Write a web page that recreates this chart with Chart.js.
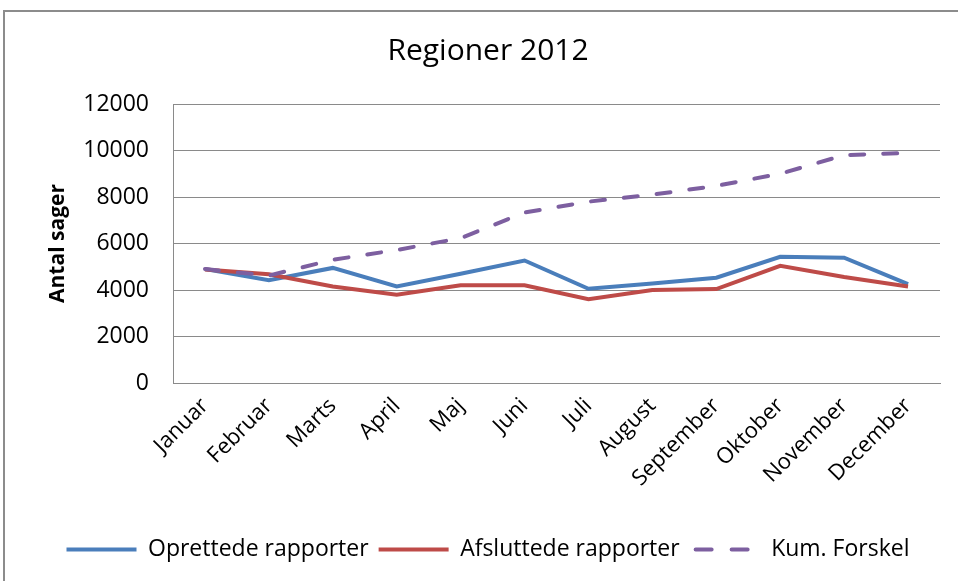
<!DOCTYPE html>
<html>
<head>
<meta charset="utf-8">
<title>Regioner 2012</title>
<script src="https://cdn.jsdelivr.net/npm/chart.js@4/dist/chart.umd.min.js"></script>
<style>
    html, body { margin: 0; padding: 0; background: #fff; overflow: hidden; }
    #wrap { position: relative; width: 958px; height: 581px; }
    #frame {
        position: absolute; left: 3px; top: 10px;
        width: 1000px; height: 1000px;
        border: 2px solid #8c8c8c;
        box-sizing: border-box;
    }
    #chart { position: absolute; left: 0; top: 0; }
</style>
</head>
<body>
<div id="wrap">
    <div id="frame"></div>
    <canvas id="chart" width="958" height="581"></canvas>
</div>
<script>
const months = ['Januar', 'Februar', 'Marts', 'April', 'Maj', 'Juni',
    'Juli', 'August', 'September', 'Oktober', 'November', 'December'];

const oprettede = [4900, 4420, 4950, 4150, 4700, 5270, 4050, 4280, 4530, 5430, 5390, 4250];
const afsluttede = [4880, 4680, 4150, 3800, 4200, 4200, 3600, 4000, 4040, 5040, 4560, 4150];
const kumForskel = [4900, 4620, 5300, 5720, 6230, 7330, 7800, 8100, 8480, 9000, 9800, 9900];

const yTicks = [0, 2000, 4000, 6000, 8000, 10000, 12000];

document.addEventListener('DOMContentLoaded', () => {
    const ctx = document.getElementById('chart').getContext('2d');
    const gridGray = '#8a8a8a';

    new Chart(ctx, {
        type: 'line',
        data: {
            labels: months,
            datasets: [{
                label: 'Oprettede rapporter',
                data: oprettede,
                borderColor: '#4a7ebb',
                backgroundColor: '#4a7ebb',
                borderWidth: 4,
                order: 2
            }, {
                label: 'Afsluttede rapporter',
                data: afsluttede,
                borderColor: '#be4b48',
                backgroundColor: '#be4b48',
                borderWidth: 4,
                order: 1
            }, {
                label: 'Kum. Forskel',
                data: kumForskel,
                borderColor: '#7d5fa0',
                backgroundColor: '#7d5fa0',
                borderWidth: 4,
                borderDash: [14, 19],
                borderCapStyle: 'round',
                order: 0
            }]
        },
        options: {
            responsive: false,
            animation: false,
            layout: {
                padding: { left: 36, right: 18, top: 0, bottom: 10 }
            },
            elements: {
                line: { tension: 0, fill: false },
                point: { radius: 0, hoverRadius: 0 }
            },
            scales: {
                x: {
                    offset: true,
                    grid: { display: false, drawTicks: false },
                    border: { display: true, color: gridGray, width: 1 },
                    ticks: {
                        color: '#000',
                        font: { family: 'Open Sans', size: 22 },
                        minRotation: 45,
                        maxRotation: 45,
                        padding: 10,
                        autoSkip: false
                    },
                    afterFit: scale => { scale.height = 145; }
                },
                y: {
                    min: 0,
                    max: 12000,
                    afterBuildTicks: scale => {
                        scale.ticks = yTicks.map(v => ({ value: v }));
                    },
                    grid: { color: gridGray, lineWidth: 1, drawTicks: false },
                    border: { display: true, color: gridGray, width: 1 },
                    ticks: {
                        color: '#000',
                        font: { family: 'Open Sans', size: 23 },
                        padding: 24,
                        callback: value => String(value)
                    },
                    title: {
                        display: true,
                        text: 'Antal sager',
                        color: '#000',
                        font: { family: 'Open Sans', size: 21, weight: 'bold' },
                        padding: { top: 9, bottom: 0 }
                    },
                    afterFit: scale => { scale.width = 137; }
                }
            },
            plugins: {
                title: {
                    display: true,
                    text: 'Regioner 2012',
                    color: '#000',
                    font: { family: 'Open Sans', size: 30, weight: 'normal' },
                    padding: { top: 33, bottom: 35 }
                },
                legend: {
                    position: 'bottom',
                    labels: {
                        color: '#000',
                        font: { family: 'Open Sans', size: 23 },
                        usePointStyle: true,
                        pointStyle: 'line',
                        pointStyleWidth: 70,
                        padding: 10,
                        sort: (a, b) => a.datasetIndex - b.datasetIndex,
                        // point-style items lose the dataset dash, so copy it back
                        generateLabels: chart => {
                            const items = Chart.defaults.plugins.legend.labels.generateLabels(chart);
                            items.forEach(item => {
                                const ds = chart.data.datasets[item.datasetIndex];
                                item.lineDash = ds.borderDash ? [16, 20] : [];
                                item.lineCap = ds.borderDash ? 'round' : 'butt';
                                item.lineDashOffset = ds.borderDash ? -6 : 0;
                            });
                            return items;
                        }
                    }
                },
                tooltip: { enabled: false }
            }
        }
    });
});
</script>
</body>
</html>
